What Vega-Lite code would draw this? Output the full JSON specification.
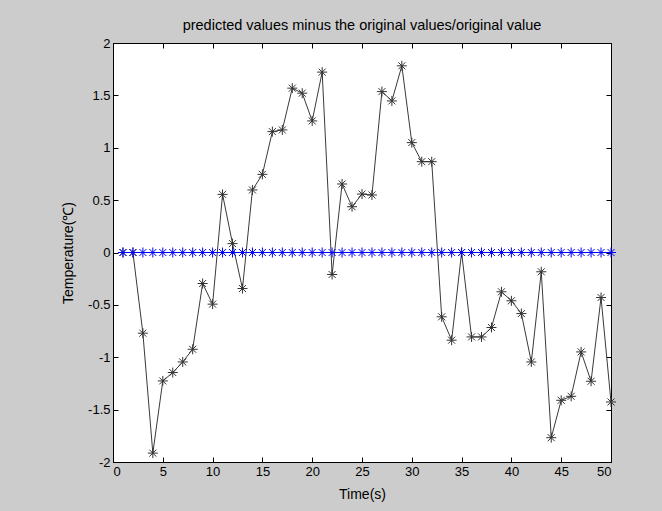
{
  "$schema": "https://vega.github.io/schema/vega-lite/v6.json",
  "width": 498,
  "height": 419,
  "autosize": {"type": "none"},
  "padding": {"left": 113, "top": 43, "right": 51, "bottom": 49},
  "background": "#cccccc",
  "title": {"text": "predicted values minus the original values/original value", "font": "Liberation Sans", "fontSize": 14.5, "fontWeight": "normal", "anchor": "middle", "color": "black", "offset": 4},
  "data": {"values": [
      {"t": 1, "s": "err", "v": 0}, {"t": 2, "s": "err", "v": 0}, {"t": 3, "s": "err", "v": -0.77}, {"t": 4, "s": "err", "v": -1.915},
      {"t": 5, "s": "err", "v": -1.226}, {"t": 6, "s": "err", "v": -1.146}, {"t": 7, "s": "err", "v": -1.045}, {"t": 8, "s": "err", "v": -0.924},
      {"t": 9, "s": "err", "v": -0.296}, {"t": 10, "s": "err", "v": -0.493}, {"t": 11, "s": "err", "v": 0.555}, {"t": 12, "s": "err", "v": 0.085},
      {"t": 13, "s": "err", "v": -0.344}, {"t": 14, "s": "err", "v": 0.597}, {"t": 15, "s": "err", "v": 0.746}, {"t": 16, "s": "err", "v": 1.154},
      {"t": 17, "s": "err", "v": 1.17}, {"t": 18, "s": "err", "v": 1.569}, {"t": 19, "s": "err", "v": 1.521}, {"t": 20, "s": "err", "v": 1.256},
      {"t": 21, "s": "err", "v": 1.722}, {"t": 22, "s": "err", "v": -0.21}, {"t": 23, "s": "err", "v": 0.654}, {"t": 24, "s": "err", "v": 0.437},
      {"t": 25, "s": "err", "v": 0.558}, {"t": 26, "s": "err", "v": 0.549}, {"t": 27, "s": "err", "v": 1.536}, {"t": 28, "s": "err", "v": 1.447},
      {"t": 29, "s": "err", "v": 1.782}, {"t": 30, "s": "err", "v": 1.049}, {"t": 31, "s": "err", "v": 0.867}, {"t": 32, "s": "err", "v": 0.867},
      {"t": 33, "s": "err", "v": -0.614}, {"t": 34, "s": "err", "v": -0.837}, {"t": 35, "s": "err", "v": 0.0}, {"t": 36, "s": "err", "v": -0.806},
      {"t": 37, "s": "err", "v": -0.806}, {"t": 38, "s": "err", "v": -0.716}, {"t": 39, "s": "err", "v": -0.375}, {"t": 40, "s": "err", "v": -0.461},
      {"t": 41, "s": "err", "v": -0.583}, {"t": 42, "s": "err", "v": -1.045}, {"t": 43, "s": "err", "v": -0.184}, {"t": 44, "s": "err", "v": -1.768},
      {"t": 45, "s": "err", "v": -1.411}, {"t": 46, "s": "err", "v": -1.373}, {"t": 47, "s": "err", "v": -0.949}, {"t": 48, "s": "err", "v": -1.229},
      {"t": 49, "s": "err", "v": -0.43}, {"t": 50, "s": "err", "v": -1.427},
      {"t": 1, "s": "zero", "v": 0}, {"t": 2, "s": "zero", "v": 0}, {"t": 3, "s": "zero", "v": 0}, {"t": 4, "s": "zero", "v": 0}, {"t": 5, "s": "zero", "v": 0},
      {"t": 6, "s": "zero", "v": 0}, {"t": 7, "s": "zero", "v": 0}, {"t": 8, "s": "zero", "v": 0}, {"t": 9, "s": "zero", "v": 0}, {"t": 10, "s": "zero", "v": 0},
      {"t": 11, "s": "zero", "v": 0}, {"t": 12, "s": "zero", "v": 0}, {"t": 13, "s": "zero", "v": 0}, {"t": 14, "s": "zero", "v": 0}, {"t": 15, "s": "zero", "v": 0},
      {"t": 16, "s": "zero", "v": 0}, {"t": 17, "s": "zero", "v": 0}, {"t": 18, "s": "zero", "v": 0}, {"t": 19, "s": "zero", "v": 0}, {"t": 20, "s": "zero", "v": 0},
      {"t": 21, "s": "zero", "v": 0}, {"t": 22, "s": "zero", "v": 0}, {"t": 23, "s": "zero", "v": 0}, {"t": 24, "s": "zero", "v": 0}, {"t": 25, "s": "zero", "v": 0},
      {"t": 26, "s": "zero", "v": 0}, {"t": 27, "s": "zero", "v": 0}, {"t": 28, "s": "zero", "v": 0}, {"t": 29, "s": "zero", "v": 0}, {"t": 30, "s": "zero", "v": 0},
      {"t": 31, "s": "zero", "v": 0}, {"t": 32, "s": "zero", "v": 0}, {"t": 33, "s": "zero", "v": 0}, {"t": 34, "s": "zero", "v": 0}, {"t": 35, "s": "zero", "v": 0},
      {"t": 36, "s": "zero", "v": 0}, {"t": 37, "s": "zero", "v": 0}, {"t": 38, "s": "zero", "v": 0}, {"t": 39, "s": "zero", "v": 0}, {"t": 40, "s": "zero", "v": 0},
      {"t": 41, "s": "zero", "v": 0}, {"t": 42, "s": "zero", "v": 0}, {"t": 43, "s": "zero", "v": 0}, {"t": 44, "s": "zero", "v": 0}, {"t": 45, "s": "zero", "v": 0},
      {"t": 46, "s": "zero", "v": 0}, {"t": 47, "s": "zero", "v": 0}, {"t": 48, "s": "zero", "v": 0}, {"t": 49, "s": "zero", "v": 0}, {"t": 50, "s": "zero", "v": 0}
  ]},
  "layer": [
    {
      "mark": {"type": "line", "strokeWidth": 1},
      "encoding": {
        "x": {"field": "t", "type": "quantitative", "scale": {"domain": [0, 50], "nice": false, "zero": false},
          "axis": {"orient": "bottom", "values": [0, 5, 10, 15, 20, 25, 30, 35, 40, 45, 50], "labelExpr": "'' + datum.value", "title": "Time(s)", "titlePadding": 9}},
        "y": {"field": "v", "type": "quantitative", "scale": {"domain": [-2, 2], "nice": false},
          "axis": {"orient": "left", "values": [-2, -1.5, -1, -0.5, 0, 0.5, 1, 1.5, 2], "labelExpr": "'' + datum.value", "title": "Temperature(℃)", "titlePadding": 12}},
        "color": {"field": "s", "type": "nominal", "scale": {"domain": ["err", "zero"], "range": ["#3a3a3a", "#0000ff"]}, "legend": null}
      }
    },
    {
      "mark": {"type": "point", "shape": "M-1,0L1,0M0,-1L0,1M-0.7,-0.7L0.7,0.7M-0.7,0.7L0.7,-0.7", "filled": false, "strokeWidth": 1, "size": 100, "opacity": 1},
      "encoding": {
        "x": {"field": "t", "type": "quantitative",
          "axis": {"orient": "top", "values": [0, 5, 10, 15, 20, 25, 30, 35, 40, 45, 50], "labels": false, "title": null, "domain": false}},
        "y": {"field": "v", "type": "quantitative",
          "axis": {"orient": "right", "values": [-2, -1.5, -1, -0.5, 0, 0.5, 1, 1.5, 2], "labels": false, "title": null, "domain": false}},
        "color": {"field": "s", "type": "nominal", "scale": {"domain": ["err", "zero"], "range": ["#333333", "#0000ff"]}, "legend": null}
      }
    }
  ],
  "resolve": {"axis": {"x": "independent", "y": "independent"}, "scale": {"color": "independent"}},
  "config": {
    "view": {"fill": "white", "stroke": "black", "strokeWidth": 1},
    "axis": {
      "grid": false,
      "domainColor": "black",
      "tickColor": "black",
      "tickSize": -5,
      "labelPadding": 8,
      "labelFont": "Liberation Sans",
      "labelFontSize": 13,
      "labelColor": "black",
      "titleFont": "Liberation Sans",
      "titleFontSize": 14,
      "titleFontWeight": "normal",
      "titleColor": "black"
    }
  }
}
